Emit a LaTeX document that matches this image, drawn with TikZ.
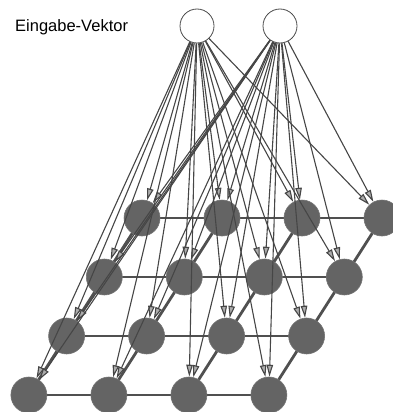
\documentclass[tikz,border=0pt]{standalone}
\usepackage{fontspec}
\setmainfont{Liberation Sans}
\usetikzlibrary{arrows.meta}
\definecolor{nodegray}{RGB}{100,100,100}
\definecolor{linegray}{RGB}{70,70,70}
\definecolor{gridgray}{RGB}{80,80,80}
\tikzset{
  inputnode/.style={circle,draw=black!70,line width=0.8pt,fill=white,minimum size=34pt,inner sep=0pt},
  gridnode/.style={circle,draw=black!55,line width=0.6pt,fill=nodegray,minimum size=36pt,inner sep=0pt},
  gridline/.style={draw=gridgray,line width=2.8pt},
  conn/.style={draw=linegray,line width=1.1pt,-{Triangle[length=12pt,width=6.5pt,fill=gray!65]}},
  lbl/.style={anchor=base west,inner sep=0pt,font=\fontsize{16.5}{18}\selectfont}
}
\begin{document}
\begin{tikzpicture}[x=1pt,y=-1pt]
\useasboundingbox (0,0) rectangle (393,412);
\begin{scope}
\clip (0,0) rectangle (393,412);
% grid coordinates
\foreach \r in {0,...,3}{
  \foreach \c in {0,...,3}{
    \coordinate (p\r\c) at ({142+80*\c-37.7*\r},{218+59*\r});
  }
}
% grid lines
\foreach \r in {0,...,3}{
  \draw[gridline] (p\r0) -- (p\r1) -- (p\r2) -- (p\r3);
}
\foreach \c in {0,...,3}{
  \draw[gridline] (p0\c) -- (p1\c) -- (p2\c) -- (p3\c);
}
% grid nodes
\foreach \r in {0,...,3}{
  \foreach \c in {0,...,3}{
    \node[gridnode] (g\r\c) at (p\r\c) {};
  }
}
% input nodes
\node[inputnode] (in1) at (197,26) {};
\node[inputnode] (in2) at (280,26) {};
% connections
\foreach \r in {0,...,3}{
  \foreach \c in {0,...,3}{
    \draw[conn] (in1) -- (g\r\c);
    \draw[conn] (in2) -- (g\r\c);
  }
}
\end{scope}
\node[lbl] (title) at (15,32) {Eingabe-Vektor};
\end{tikzpicture}
\end{document}
